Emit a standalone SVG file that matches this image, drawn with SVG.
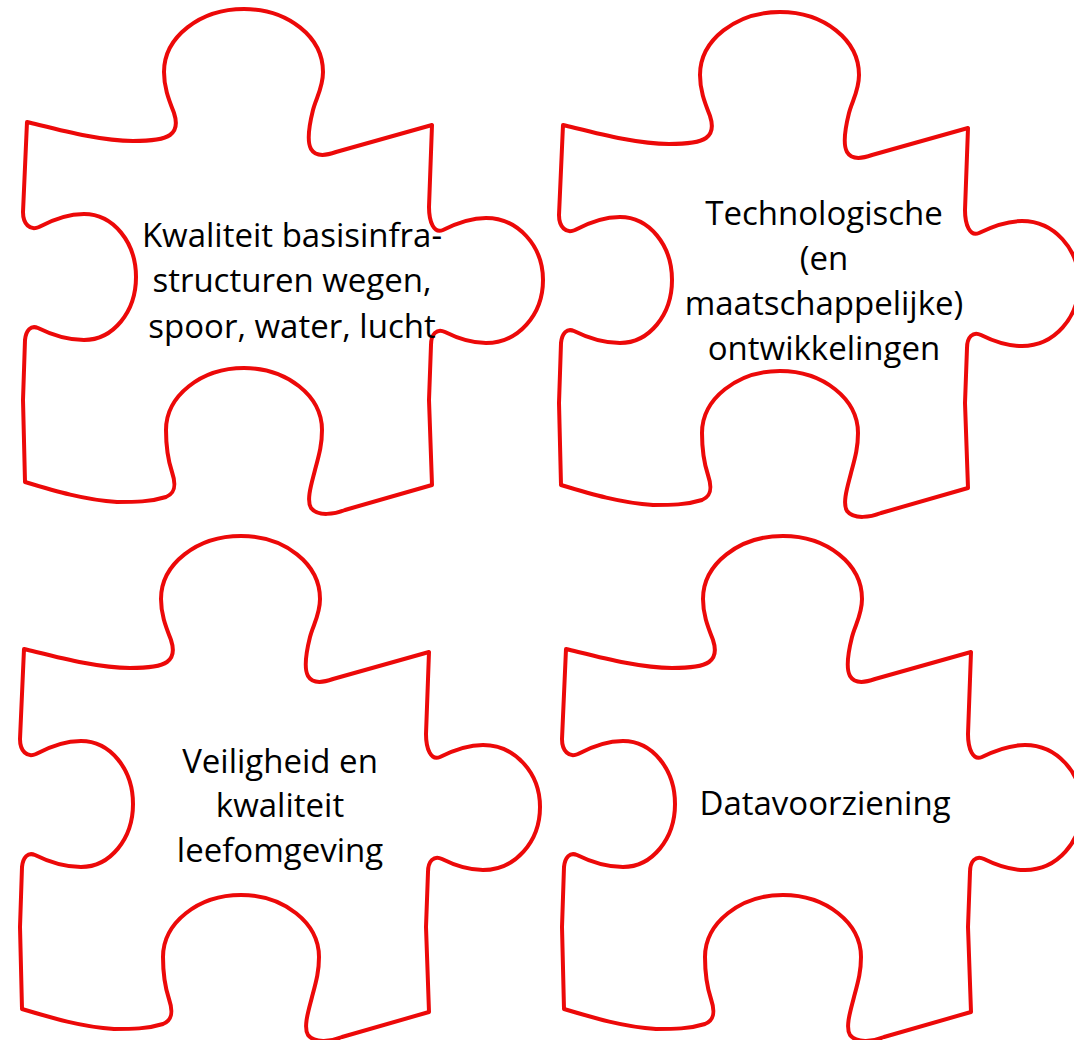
<svg xmlns="http://www.w3.org/2000/svg" xmlns:xlink="http://www.w3.org/1999/xlink" width="1074" height="1040" viewBox="0 0 1074 1040">
  <style>
    .piece { fill: #ffffff; stroke: #ec0909; stroke-width: 4; stroke-linejoin: round; }
    .label { font-family: "Open Sans", "Noto Sans", "Liberation Sans", sans-serif; font-size: 33px; fill: #000000; text-anchor: middle; }
  </style>
  <defs>
    <path id="piece" d="M27,122 C60,130 100,141 133,141 C150,141 163,140 170,135 C177,130 177,122 174,113 C169,100 164,88 164,72 C164,37 200,9 244,9 C288,9 323,37 323,72 C323,88 316,98 313,110 C310,122 306,140 311,149 C315,156 325,156 336,152 L432,125 L429,207 C429,222 434,234 443,230 C455,224 470,218 486,218 C518,218 543,246 543,280 C543,315 518,343 486,343 C470,343 455,337 445,332 C437,328 431,334 431,345 L429,400 L432,485 L345,510 C335,514 318,517 311,508 C306,500 312,482 315,470 C319,455 322,445 322,430 C322,396 287,368 244,368 C201,368 166,396 166,430 C166,445 168,460 172,472 C176,484 176,493 166,497 C150,502 135,502 117,502 C85,500 55,491 25,482 L23,400 L25,340 C26,330 31,325 38,328 C52,335 68,340 84,340 C113,340 136,312 136,277 C136,242 113,214 84,214 C68,214 52,220 39,227 C30,231 23,224 23,212 L25,167 Z"/>
  </defs>
  <rect width="1074" height="1040" fill="#ffffff"/>
  <g id="node-kwaliteit-basisinfrastructuren">
    <use xlink:href="#piece" href="#piece" class="piece"/>
    <text class="label" x="292" y="247">Kwaliteit basisinfra-</text>
    <text class="label" x="292" y="292">structuren wegen,</text>
    <text class="label" x="292" y="338">spoor, water, lucht</text>
  </g>
  <g id="node-technologische-ontwikkelingen">
    <use xlink:href="#piece" href="#piece" class="piece" transform="translate(536,3)"/>
    <text class="label" x="824" y="225">Technologische</text>
    <text class="label" x="824" y="270">(en</text>
    <text class="label" x="824" y="315">maatschappelijke)</text>
    <text class="label" x="824" y="360">ontwikkelingen</text>
  </g>
  <g id="node-veiligheid-leefomgeving">
    <use xlink:href="#piece" href="#piece" class="piece" transform="translate(-3,527)"/>
    <text class="label" x="280" y="773">Veiligheid en</text>
    <text class="label" x="280" y="817">kwaliteit</text>
    <text class="label" x="280" y="862">leefomgeving</text>
  </g>
  <g id="node-datavoorziening">
    <use xlink:href="#piece" href="#piece" class="piece" transform="translate(539,527)"/>
    <text class="label" x="825" y="815">Datavoorziening</text>
  </g>
  <g id="connectors"/>
</svg>
